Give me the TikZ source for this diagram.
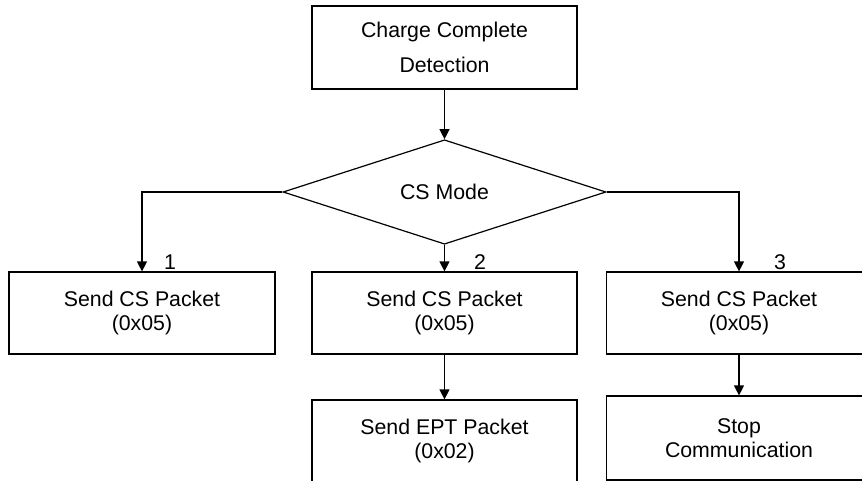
\documentclass[tikz,border=0pt]{standalone}
\usepackage{fontspec}
\setmainfont{Liberation Sans}
\usetikzlibrary{shapes.geometric,arrows.meta}
\begin{document}
\begin{tikzpicture}[x=1pt,y=-1pt,line width=1.2pt]
  % Styles
  \tikzstyle{process box}=[draw,rectangle,align=center,inner sep=0pt,
    minimum width=265pt,minimum height=82pt,
    font=\fontsize{21.3}{24}\selectfont]
  \tikzstyle{decision}=[draw,diamond,inner sep=0pt,
    minimum width=323pt,minimum height=96pt,
    font=\fontsize{21.3}{24}\selectfont]
  \tikzstyle{flow}=[-{Triangle[length=10pt,width=10pt]}]
  \tikzstyle{branch number}=[font=\fontsize{21.3}{24}\selectfont,inner sep=0pt]

  % The frame
  \useasboundingbox (0,0) rectangle (862,481);

  % The boxes
  \node[process box,minimum height=83pt,font=\fontsize{21.3}{35}\selectfont]
    (detect) at (444.5,47.5) {Charge Complete\\Detection};
  \node[decision] (mode) at (444.5,192) {CS Mode};

  \node[process box,minimum width=266pt] (cs one) at (142,313) {Send CS Packet\\(0x05)};
  \node[process box] (cs two) at (444.5,313) {Send CS Packet\\(0x05)};
  \node[process box] (cs three) at (739,313) {Send CS Packet\\(0x05)};

  \node[process box] (ept) at (444.5,441) {Send EPT Packet\\(0x02)};
  \node[process box,minimum height=84pt] (stop) at (739,438) {Stop\\Communication};

  % Branch numbers
  \node[branch number] (num one) at (170,262) {1};
  \node[branch number] (num two) at (480,262) {2};
  \node[branch number] (num three) at (780,262) {3};

  % The connectors
  \draw[flow] (detect) -- (mode);
  \draw[flow] (mode.west) -| (cs one.north);
  \draw[flow] (mode.south) -- (cs two.north);
  \draw[flow] (mode.east) -| (cs three.north);
  \draw[flow] (cs two) -- (ept);
  \draw[flow] (cs three) -- (stop);
\end{tikzpicture}
\end{document}
